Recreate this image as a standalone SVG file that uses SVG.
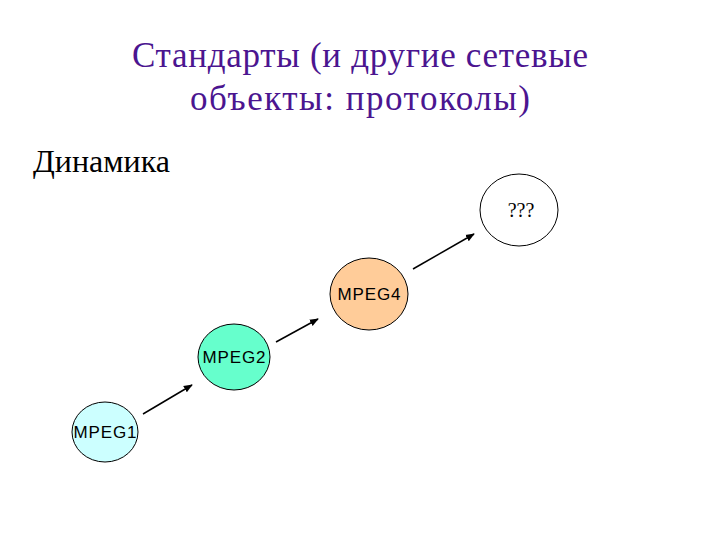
<svg xmlns="http://www.w3.org/2000/svg" width="720" height="540" viewBox="0 0 720 540">
<style>
.t{font-family:"Liberation Serif",serif;font-size:35px}
.n{stroke:#000;stroke-width:1}
.l{font-family:"Liberation Sans",Arial,sans-serif;font-size:17px;text-anchor:middle}
.c{stroke:#000;stroke-width:1.5;fill:none;marker-end:url(#a)}
</style>
<defs><marker id="a" viewBox="0 0 10 10" refX="9" refY="5" markerWidth="6" markerHeight="6" orient="auto"><path d="M0,1 L10,5 L0,9 z" fill="#000"/></marker></defs>
<rect width="720" height="540" fill="#fff"/>
<text class="t" x="360" y="67" text-anchor="middle" fill="#4b1590" textLength="456">Стандарты (и другие сетевые</text>
<text class="t" x="360" y="110" text-anchor="middle" fill="#4b1590" textLength="340">объекты: протоколы)</text>
<text class="t" x="33" y="172" style="font-size:32px" textLength="137">Динамика</text>
<g id="connectors">
<line class="c" x1="143" y1="414" x2="192" y2="385"/>
<line class="c" x1="276" y1="342" x2="318" y2="319"/>
<line class="c" x1="413" y1="269" x2="474" y2="234"/>
</g>
<g id="mpeg1"><ellipse class="n" cx="105" cy="432" rx="33" ry="30" fill="#ccffff"/><text class="l" x="105" y="438" textLength="63">MPEG1</text></g>
<g id="mpeg2"><ellipse class="n" cx="234" cy="357" rx="36" ry="33" fill="#66ffcc"/><text class="l" x="234" y="363" textLength="63">MPEG2</text></g>
<g id="mpeg4"><ellipse class="n" cx="369" cy="294" rx="39" ry="36" fill="#ffcc99"/><text class="l" x="369" y="300" textLength="63">MPEG4</text></g>
<g id="next"><ellipse class="n" cx="519" cy="210" rx="39" ry="36" fill="#fff"/><text x="521" y="217" text-anchor="middle" font-family="Liberation Serif,serif" font-size="20">???</text></g>
</svg>
